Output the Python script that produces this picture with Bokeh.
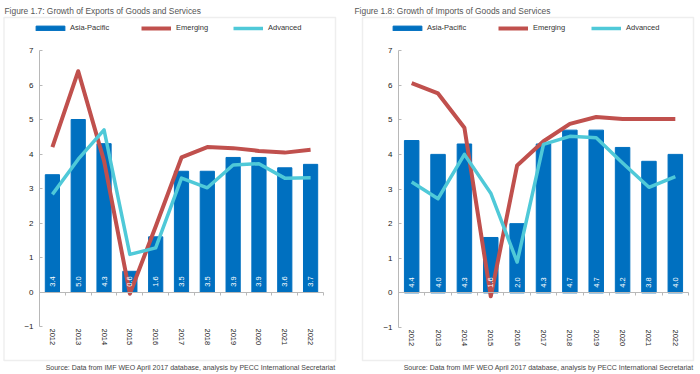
import math
from bokeh.plotting import figure
from bokeh.models import (Range1d, FixedTicker, Label, LinearAxis,
                          BoxAnnotation, Legend, LegendItem)
from bokeh.layouts import row
from bokeh.embed import file_html
from bokeh.resources import INLINE
from bokeh.core.properties import value

# ---------------- data ----------------
years = ["2012", "2013", "2014", "2015", "2016", "2017", "2018", "2019", "2020", "2021", "2022"]

exp_asia = [3.4, 5.0, 4.3, 0.6, 1.6, 3.5, 3.5, 3.9, 3.9, 3.6, 3.7]
exp_emerging = [4.2, 6.4, 3.8, -0.05, 1.9, 3.9, 4.2, 4.17, 4.09, 4.04, 4.12]
exp_advanced = [2.83, 3.85, 4.7, 1.09, 1.28, 3.3, 3.02, 3.68, 3.72, 3.3, 3.31]

imp_asia = [4.4, 4.0, 4.3, 1.6, 2.0, 4.3, 4.7, 4.7, 4.2, 3.8, 4.0]
imp_emerging = [6.06, 5.76, 4.77, -0.1, 3.68, 4.38, 4.88, 5.08, 5.02, 5.02, 5.02]
imp_advanced = [3.2, 2.72, 4.0, 2.88, 0.89, 4.29, 4.52, 4.48, 3.75, 3.05, 3.36]

y_ticks = [-1, 0, 1, 2, 3, 4, 5, 6, 7]
series_names = ["Asia-Pacific", "Emerging", "Advanced"]

title_exp = "Figure 1.7: Growth of Exports of Goods and Services"
title_imp = "Figure 1.8: Growth of Imports of Goods and Services"
source_txt = "Source: Data from IMF WEO April 2017 database, analysis by PECC International Secretariat"

BLUE = "#0070C0"
RED = "#C0504D"
CYAN = "#4FC9D8"
FONT = "Liberation Sans"
TXT = "#333333"


def make_chart(title, asia, emerging, advanced, g):
    fx0, fx1, fy0, fy1 = g["fig"]          # figure edges in page pixels
    fl, fr, ft, fb = g["axes"]             # axis box in page pixels
    n = len(years)
    xs = list(range(n))
    ppx = (fr - fl) / n
    ppy = (fb - ft) / (y_ticks[-1] - y_ticks[0])

    def dx(px):
        return (px - fl) / ppx - 0.5

    def dy(py):
        return y_ticks[-1] - (py - ft) / ppy

    p = figure(width=fx1 - fx0, height=fy1 - fy0,
               x_range=Range1d(dx(fx0), dx(fx1)), y_range=Range1d(dy(fy1), dy(fy0)),
               output_backend="svg", toolbar_location=None,
               min_border=0, min_border_left=0, min_border_right=0,
               min_border_top=0, min_border_bottom=0)
    p.outline_line_color = None
    p.xgrid.visible = False
    p.ygrid.visible = False
    p.background_fill_color = "white"
    p.border_fill_color = "white"

    # y axis
    ya = p.yaxis[0]
    ya.fixed_location = -0.5
    ya.bounds = (y_ticks[0], y_ticks[-1])
    ya.ticker = FixedTicker(ticks=y_ticks)
    ya.axis_line_color = "#b8b8b8"
    ya.major_tick_line_color = "#b8b8b8"
    ya.major_tick_in = 3
    ya.major_tick_out = 0
    ya.minor_tick_line_color = None
    ya.major_label_standoff = 6
    ya.major_label_text_font = FONT
    ya.major_label_text_font_size = "8px"
    ya.major_label_text_color = "#222222"

    # x axis with year labels (below the -1 level)
    xa = p.xaxis[0]
    xa.fixed_location = y_ticks[0]
    xa.ticker = FixedTicker(ticks=xs)
    xa.major_label_overrides = dict(zip(xs, years))
    xa.axis_line_color = None
    xa.major_tick_line_color = None
    xa.major_tick_in = 0
    xa.major_tick_out = 0
    xa.minor_tick_line_color = None
    xa.major_label_orientation = "vertical"
    xa.major_label_standoff = 2
    xa.major_label_text_font = FONT
    xa.major_label_text_font_size = "7.5px"
    xa.major_label_text_color = "#222222"

    # zero line with small category ticks
    bnds = [i - 0.5 for i in range(n + 1)]
    za = LinearAxis(fixed_location=0, bounds=(bnds[0], bnds[-1]),
                    ticker=FixedTicker(ticks=bnds),
                    major_label_overrides={b: "" for b in bnds},
                    axis_line_color="#b8b8b8", major_tick_line_color="#b8b8b8",
                    major_tick_in=0, major_tick_out=3, minor_tick_line_color=None)
    p.add_layout(za, "below")

    r_bar = p.vbar(x=xs, top=asia, width=0.55, color=BLUE)
    r_em = p.line(xs, emerging, line_width=4, color=RED, line_join="round")
    r_ad = p.line(xs, advanced, line_width=3.5, color=CYAN, line_join="round")

    p.text(x=xs, y=0.15, text=["%.1f" % v for v in asia], angle=math.pi / 2,
           text_color="white", text_font=value(FONT), text_font_size="7.5px",
           text_align="left", text_baseline="middle")

    # legend: three separate single-item legends
    specs = [(r_bar, 36, -4, 2), (r_em, 30, 0, 5), (r_ad, 30, 0, 5)]
    for (r, gw, shift, stand), name, sx in zip(specs, series_names, g["leg_x"]):
        lg = Legend(items=[LegendItem(label=name, renderers=[r])],
                    location=(sx + shift - fx0, fy1 - g["leg_y"] - 4),
                    orientation="horizontal",
                    padding=0, margin=0, spacing=0, border_line_color=None,
                    background_fill_alpha=0, glyph_width=gw, glyph_height=6,
                    label_height=8, label_width=10, label_standoff=stand,
                    label_text_font=FONT, label_text_font_size="7.5px",
                    label_text_color=TXT)
        p.add_layout(lg, "center")

    # surrounding box
    bx0, bx1, by0, by1 = g["box"]
    p.add_layout(BoxAnnotation(left=dx(bx0), right=dx(bx1), top=dy(by0), bottom=dy(by1),
                               fill_color=None, fill_alpha=0,
                               line_color="#c8c8c8", line_width=1.5))

    p.add_layout(Label(x=dx(g["title_x"]), y=dy(10), text=title, text_font=FONT,
                       text_font_size="8.4px", text_color="#555555",
                       text_align="left", text_baseline="middle"))
    p.add_layout(Label(x=dx(bx1), y=dy(366.5), text=source_txt, text_font=FONT,
                       text_font_size="7px", text_color="#444444",
                       text_align="right", text_baseline="middle"))
    return p


g_left = dict(fig=(0, 350, 0, 374), axes=(39, 323, 50, 326),
              box=(3.5, 335, 17, 360), title_x=4, leg_x=[36, 141, 233], leg_y=28)
g_right = dict(fig=(350, 700, 0, 374), axes=(398, 688, 50, 327),
               box=(362, 693, 17, 360), title_x=354, leg_x=[393, 498, 591], leg_y=28)

p1 = make_chart(title_exp, exp_asia, exp_emerging, exp_advanced, g_left)
p2 = make_chart(title_imp, imp_asia, imp_emerging, imp_advanced, g_right)

layout = row(p1, p2, spacing=0)
open("out.html", "w").write(file_html(layout, INLINE))
